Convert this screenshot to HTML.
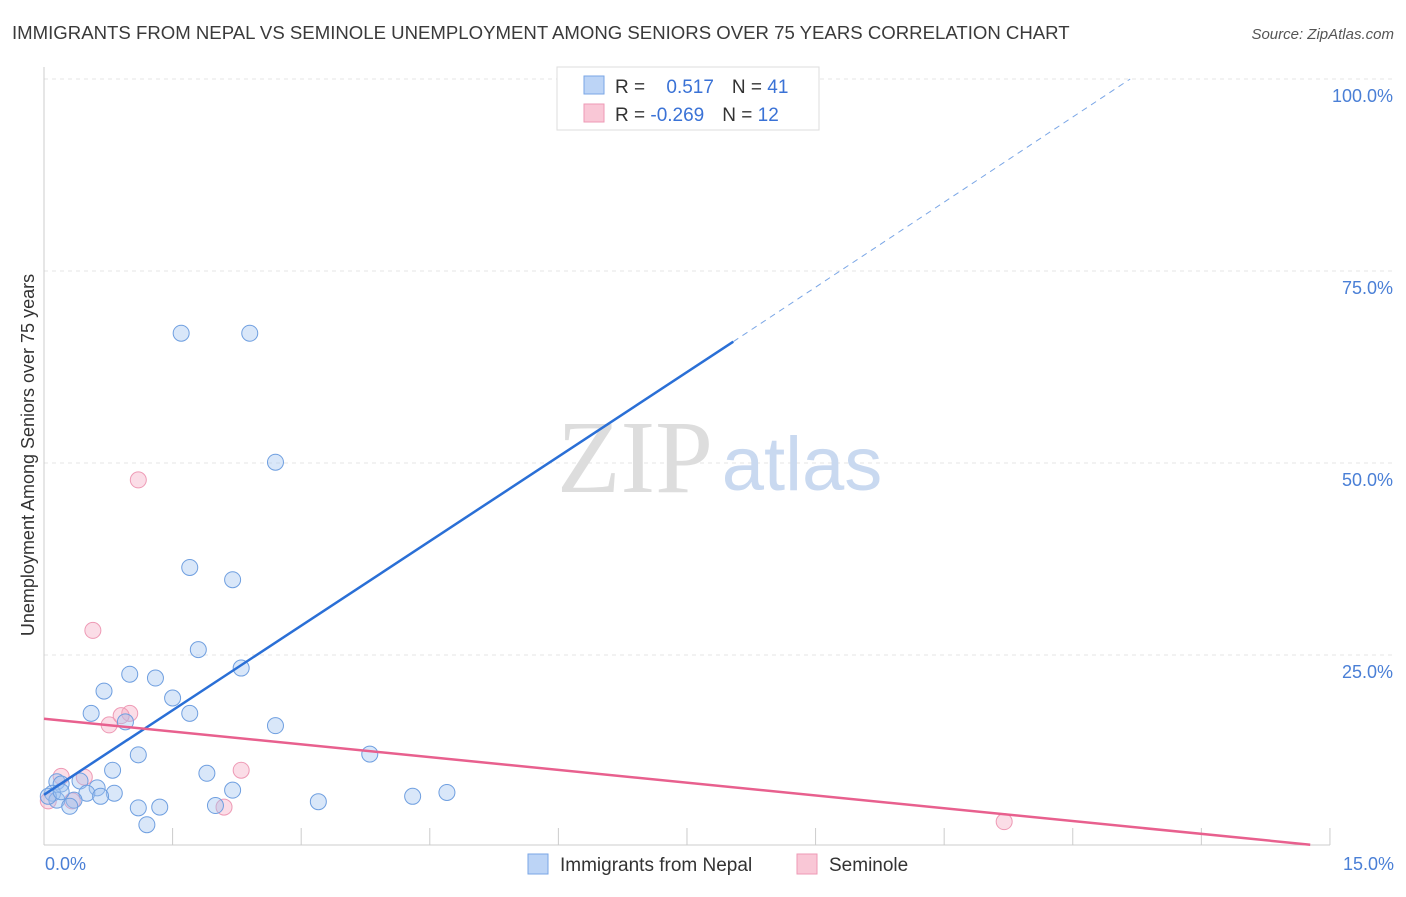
<!DOCTYPE html>
<html><head><meta charset="utf-8"><style>
body{margin:0;background:#fff;font-family:"Liberation Sans",sans-serif;}
</style></head><body>
<svg id="chart" width="1406" height="892" xmlns="http://www.w3.org/2000/svg">
<text x="12" y="39" font-size="18.6" fill="#3a3a3a">IMMIGRANTS FROM NEPAL VS SEMINOLE UNEMPLOYMENT AMONG SENIORS OVER 75 YEARS CORRELATION CHART</text>
<text x="1394" y="39" font-size="15" fill="#555" font-style="italic" text-anchor="end">Source: ZipAtlas.com</text>
<g id="grid"></g>
<text x="635" y="492" font-size="104" fill="#ddd" font-family="Liberation Serif,serif" text-anchor="middle">ZIP</text>
<text x="802" y="490" font-size="76" fill="#c9d9f0" text-anchor="middle">atlas</text>
<g id="marks"></g>
<text transform="translate(34,455) rotate(-90)" font-size="18" fill="#333" text-anchor="middle">Unemployment Among Seniors over 75 years</text>
<text x="45" y="870" font-size="18" fill="#4a7fd6">0.0%</text>
<text x="1394" y="870" font-size="18" fill="#4a7fd6" text-anchor="end">15.0%</text>
<g>
<rect x="557" y="67" width="262" height="63" fill="#fff" stroke="#ddd"/>
<rect x="584" y="76" width="20" height="18" fill="#bcd4f6" stroke="#7aa6e6"/>
<rect x="584" y="104" width="20" height="18" fill="#f9c7d6" stroke="#ee9ab5"/>
<text x="615" y="93" font-size="19" fill="#333">R = <tspan fill="#3a72d6" dx="16">0.517</tspan><tspan fill="#333" dx="18">N = </tspan><tspan fill="#3a72d6">41</tspan></text>
<text x="615" y="121" font-size="19" fill="#333">R = <tspan fill="#3a72d6">-0.269</tspan><tspan fill="#333" dx="18">N = </tspan><tspan fill="#3a72d6">12</tspan></text>
</g>
<g>
<rect x="528" y="854" width="20" height="20" fill="#bcd4f6" stroke="#7aa6e6"/>
<text x="560" y="871" font-size="19" fill="#333">Immigrants from Nepal</text>
<rect x="797" y="854" width="20" height="20" fill="#f9c7d6" stroke="#ee9ab5"/>
<text x="829" y="871" font-size="19" fill="#333">Seminole</text>
</g>
</svg>
<script>
const nepalX=[6.8,1.6,2.4,2.7,1.7,2.2,1.8,2.3,1.0,1.3,0.7,1.5,0.55,1.7,0.95,2.7,1.1,3.8,0.8,1.9,0.15,0.2,0.42,0.62,0.1,0.5,0.82,0.66,2.2,0.35,0.15,3.2,4.3,4.7,1.1,1.35,2.0,1.2,0.3,0.05,0.2];
const nepalY=[100,66.9,66.9,50.1,36.4,34.8,25.7,23.3,22.5,22.0,20.3,19.4,17.4,17.4,16.3,15.8,12.0,12.1,10.0,9.6,8.5,8.2,8.6,7.7,7.0,7.0,7.0,6.6,7.4,6.1,6.1,5.9,6.6,7.1,5.1,5.2,5.4,2.9,5.3,6.6,7.2];
const semX=[1.1,0.57,0.76,1.0,0.9,2.3,0.47,0.2,0.33,2.1,11.2,0.05];
const semY=[47.8,28.2,15.9,17.4,17.1,10.0,9.1,9.2,6.0,5.2,3.3,6.0];
const xTicks=[0,1.5,3,4.5,6,7.5,9,10.5,12,13.5,15];
const yTicks=[25,50,75,100];
const yTickLabels=["25.0%","50.0%","75.0%","100.0%"];
const nepalLine=[0,6.8,8.04,65.8,12.67,100];
const semLine=[0,16.7,14.77,0.3];
const X=v=>44+v*85.73, Y=v=>847-v*7.68;
const NS="http://www.w3.org/2000/svg";
function mk(parent,tag,attrs){const e=document.createElementNS(NS,tag);for(const k in attrs)e.setAttribute(k,attrs[k]);document.getElementById(parent).appendChild(e);return e;}
yTicks.forEach((t,i)=>{
  const l=mk('grid','line',{x1:44,x2:1394,y1:Y(t),y2:Y(t),stroke:'#e4e4e4','stroke-dasharray':'4,4'});
  
  
  const tx=mk('grid','text',{x:1393,y:Y(t)+23,'font-size':18,fill:'#4a7fd6','text-anchor':'end'});
  tx.textContent=yTickLabels[i];
  
  
});
const ax=mk('grid','line',{x1:44,x2:1330,y1:845,y2:845,stroke:'#ccc'});


const ay=mk('grid','line',{x1:44,x2:44,y1:67,y2:845,stroke:'#ccc'});


xTicks.slice(1).forEach(t=>{
  const l=mk('grid','line',{x1:X(t),x2:X(t),y1:828,y2:845,stroke:'#ccc'});
  
  
});
semX.forEach((x,i)=>{
  const c=mk('marks','circle',{cx:X(x),cy:Y(semY[i]),r:8,fill:'rgba(246,170,195,0.4)',stroke:'#ee9ab5','stroke-width':1});
  
  
});
nepalX.forEach((x,i)=>{
  const c=mk('marks','circle',{cx:X(x),cy:Y(nepalY[i]),r:8,fill:'rgba(160,195,240,0.4)',stroke:'#6f9fe0','stroke-width':1});
  
  
});
const l1=mk('marks','line',{x1:X(nepalLine[0]),y1:Y(nepalLine[1]),x2:X(nepalLine[2]),y2:Y(nepalLine[3]),stroke:'#2a6fd6','stroke-width':2.5});


const l2=mk('marks','line',{x1:X(nepalLine[2]),y1:Y(nepalLine[3]),x2:X(nepalLine[4]),y2:Y(nepalLine[5]),stroke:'#7aa6e6','stroke-width':1,'stroke-dasharray':'6,5'});


const l3=mk('marks','line',{x1:X(semLine[0]),y1:Y(semLine[1]),x2:X(semLine[2]),y2:Y(semLine[3]),stroke:'#e8608e','stroke-width':2.5});


</script>
</body></html>
